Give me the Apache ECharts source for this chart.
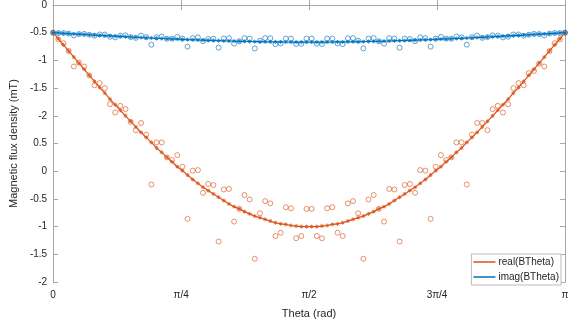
<!DOCTYPE html>
<html>
<head>
<meta charset="utf-8">
<script src="https://cdn.jsdelivr.net/npm/echarts@6/dist/echarts.min.js"></script>
<style>
  html, body { margin: 0; padding: 0; background: #fff; }
  #chart { width: 579px; height: 324px; }
</style>
</head>
<body>
<div id="chart"></div>
<script>
// theta sampled on 100 points from 0 to pi, x axis runs in sample index (0..99)
const xTickLabels = ['0', 'π/4', 'π/2', '3π/4', 'π'];
// y tick labels as printed on the figure, bottom to top
const yTickLabels = ['-2', '-1.5', '-1', '-0.5', '0', '0.5', '-2', '-1.5', '-1', '-0.5', '0'];

const realFit = [
  -0.50,-0.61,-0.72,-0.83,-0.94,-1.05,-1.16,-1.27,-1.38,-1.49,
  -1.59,-1.70,-1.80,-1.90,-2.00,-2.10,-2.20,-2.30,-2.39,-2.48,
  -2.58,-2.66,-2.75,-2.83,-2.92,-2.99,-3.07,-3.15,-3.22,-3.29,
  -3.35,-3.41,-3.47,-3.53,-3.59,-3.64,-3.68,-3.73,-3.77,-3.81,
  -3.84,-3.87,-3.90,-3.93,-3.95,-3.96,-3.98,-3.99,-4.00,-4.00,
  -4.00,-4.00,-3.99,-3.98,-3.96,-3.95,-3.93,-3.90,-3.87,-3.84,
  -3.81,-3.77,-3.73,-3.68,-3.64,-3.59,-3.53,-3.47,-3.41,-3.35,
  -3.29,-3.22,-3.15,-3.07,-2.99,-2.92,-2.83,-2.75,-2.66,-2.58,
  -2.48,-2.39,-2.30,-2.20,-2.10,-2.00,-1.90,-1.80,-1.70,-1.59,
  -1.49,-1.38,-1.27,-1.16,-1.05,-0.94,-0.83,-0.72,-0.61,-0.50
];

const imagFit = [
  -0.500,-0.505,-0.511,-0.516,-0.522,-0.527,-0.532,-0.537,-0.543,-0.548,
  -0.553,-0.558,-0.563,-0.568,-0.573,-0.578,-0.583,-0.587,-0.592,-0.596,
  -0.601,-0.605,-0.609,-0.613,-0.617,-0.621,-0.625,-0.628,-0.632,-0.635,
  -0.638,-0.642,-0.644,-0.647,-0.650,-0.652,-0.655,-0.657,-0.659,-0.661,
  -0.662,-0.664,-0.665,-0.666,-0.667,-0.668,-0.669,-0.669,-0.670,-0.670,
  -0.670,-0.670,-0.669,-0.669,-0.668,-0.667,-0.666,-0.665,-0.664,-0.662,
  -0.661,-0.659,-0.657,-0.655,-0.652,-0.650,-0.647,-0.644,-0.642,-0.638,
  -0.635,-0.632,-0.628,-0.625,-0.621,-0.617,-0.613,-0.609,-0.605,-0.601,
  -0.596,-0.592,-0.587,-0.583,-0.578,-0.573,-0.568,-0.563,-0.558,-0.553,
  -0.548,-0.543,-0.537,-0.532,-0.527,-0.522,-0.516,-0.511,-0.505,-0.500
];

const realMeas = [
  -0.50,-0.62,-0.69,-0.83,-1.11,-1.04,-1.11,-1.27,-1.45,-1.41,
  -1.50,-1.79,-1.94,-1.82,-1.88,-2.11,-2.26,-2.13,-2.34,-3.24,
  -2.48,-2.48,-2.75,-2.80,-2.71,-2.92,-3.86,-2.99,-2.98,-3.39,
  -3.23,-3.25,-4.27,-3.33,-3.32,-3.91,-3.68,-3.43,-3.51,-4.58,
  -3.76,-3.54,-3.58,-4.17,-4.11,-3.65,-3.67,-4.21,-4.17,-3.68,
  -3.68,-4.17,-4.21,-3.67,-3.65,-4.11,-4.17,-3.58,-3.54,-3.76,
  -4.58,-3.51,-3.43,-3.68,-3.91,-3.32,-3.33,-4.27,-3.25,-3.23,
  -3.39,-2.98,-2.99,-3.86,-2.92,-2.71,-2.80,-2.75,-2.48,-2.48,
  -3.24,-2.34,-2.13,-2.13,-2.26,-1.88,-1.82,-1.94,-1.79,-1.50,
  -1.41,-1.45,-1.23,-1.19,-1.06,-1.11,-0.83,-0.69,-0.62,-0.50
];

const imagMeas = [
  -0.500,-0.507,-0.505,-0.516,-0.549,-0.525,-0.522,-0.537,-0.554,-0.532,
  -0.533,-0.572,-0.585,-0.552,-0.547,-0.580,-0.593,-0.553,-0.580,-0.716,
  -0.583,-0.569,-0.609,-0.607,-0.577,-0.607,-0.751,-0.598,-0.584,-0.653,
  -0.614,-0.608,-0.770,-0.607,-0.598,-0.697,-0.655,-0.597,-0.607,-0.784,
  -0.644,-0.598,-0.601,-0.706,-0.693,-0.606,-0.607,-0.704,-0.699,-0.606,
  -0.606,-0.699,-0.704,-0.607,-0.606,-0.693,-0.706,-0.601,-0.598,-0.644,
  -0.784,-0.607,-0.597,-0.655,-0.697,-0.598,-0.607,-0.770,-0.608,-0.614,
  -0.653,-0.584,-0.598,-0.751,-0.607,-0.577,-0.607,-0.609,-0.569,-0.583,
  -0.716,-0.580,-0.553,-0.593,-0.580,-0.547,-0.552,-0.585,-0.572,-0.533,
  -0.532,-0.554,-0.537,-0.522,-0.525,-0.549,-0.516,-0.505,-0.507,-0.500
];

const ORANGE = '#D95319';
const BLUE = '#0072BD';
const AXIS = '#a8a8a8';
const TEXT = '#262626';
const FONT = 'Liberation Sans';

const pairs = (arr) => arr.map((v, i) => [i, v]);
const star = 'path://M5,0 L5,10 M0,5 L10,5 M1.5,1.5 L8.5,8.5 M1.5,8.5 L8.5,1.5';

const chart = echarts.init(document.getElementById('chart'), null, { renderer: 'canvas' });

const baseX = {
  type: 'value', min: 0, max: 99, interval: 24.75,
  axisLine: { show: true, lineStyle: { color: AXIS, width: 1 } },
  axisTick: { show: true, inside: true, length: 5, lineStyle: { color: AXIS } },
  splitLine: { show: false }
};
const baseY = {
  type: 'value', min: -5, max: 0, interval: 0.5,
  axisLine: { show: true, onZero: false, lineStyle: { color: AXIS, width: 1 } },
  axisTick: { show: true, inside: true, length: 5, lineStyle: { color: AXIS } },
  splitLine: { show: false }
};

chart.setOption({
  animation: false,
  backgroundColor: '#fff',
  textStyle: { fontFamily: FONT },
  grid: { left: 51, right: 14, top: 5, bottom: 35 },
  xAxis: [
    Object.assign({}, baseX, {
      position: 'bottom',
      name: 'Theta (rad)', nameLocation: 'middle', nameGap: 26,
      nameTextStyle: { color: TEXT, fontSize: 11, fontFamily: FONT },
      axisLabel: {
        color: TEXT, fontSize: 10, fontFamily: FONT, margin: 8,
        formatter: (v) => xTickLabels[Math.round(v / 24.75)]
      }
    }),
    Object.assign({}, baseX, { position: 'top', axisLabel: { show: false } })
  ],
  yAxis: [
    Object.assign({}, baseY, {
      position: 'left',
      name: 'Magnetic flux density (mT)', nameLocation: 'middle', nameGap: 34,
      nameTextStyle: { color: TEXT, fontSize: 11, fontFamily: FONT },
      axisLabel: {
        color: TEXT, fontSize: 10, fontFamily: FONT, margin: 6,
        formatter: (v) => yTickLabels[Math.round((v + 5) / 0.5)]
      }
    }),
    Object.assign({}, baseY, { position: 'right', axisLabel: { show: false } })
  ],
  legend: {
    orient: 'vertical',
    right: 18, bottom: 39,
    data: ['real(BTheta)', 'imag(BTheta)'],
    icon: 'rect', itemWidth: 22, itemHeight: 1.5, itemGap: 5,
    itemStyle: { borderWidth: 0 },
    padding: [3, 2, 3, 2],
    backgroundColor: '#fff',
    borderColor: '#bdbdbd', borderWidth: 1, borderRadius: 0,
    textStyle: { color: TEXT, fontSize: 10, fontFamily: FONT, padding: [0, 0, 0, -2] }
  },
  series: [
    {
      name: 'realMeas', type: 'scatter', data: pairs(realMeas),
      symbol: 'circle', symbolSize: 5,
      itemStyle: { color: 'rgba(0,0,0,0)', borderColor: ORANGE, borderWidth: 0.8, opacity: 0.8 },
      emphasis: { disabled: true },
      silent: true
    },
    {
      name: 'imagMeas', type: 'scatter', data: pairs(imagMeas),
      symbol: 'circle', symbolSize: 5,
      itemStyle: { color: 'rgba(0,0,0,0)', borderColor: BLUE, borderWidth: 0.8, opacity: 0.8 },
      emphasis: { disabled: true },
      silent: true
    },
    {
      name: 'real(BTheta)', type: 'line', data: pairs(realFit),
      color: ORANGE,
      lineStyle: { color: ORANGE, width: 1.2 },
      symbol: star, symbolSize: 4, showSymbol: true,
      itemStyle: { color: ORANGE, borderColor: ORANGE, borderWidth: 0.8 },
      emphasis: { disabled: true }
    },
    {
      name: 'imag(BTheta)', type: 'line', data: pairs(imagFit),
      color: BLUE,
      lineStyle: { color: BLUE, width: 1.2 },
      symbol: star, symbolSize: 4, showSymbol: true,
      itemStyle: { color: BLUE, borderColor: BLUE, borderWidth: 0.8 },
      emphasis: { disabled: true }
    }
  ]
});
</script>
</body>
</html>
